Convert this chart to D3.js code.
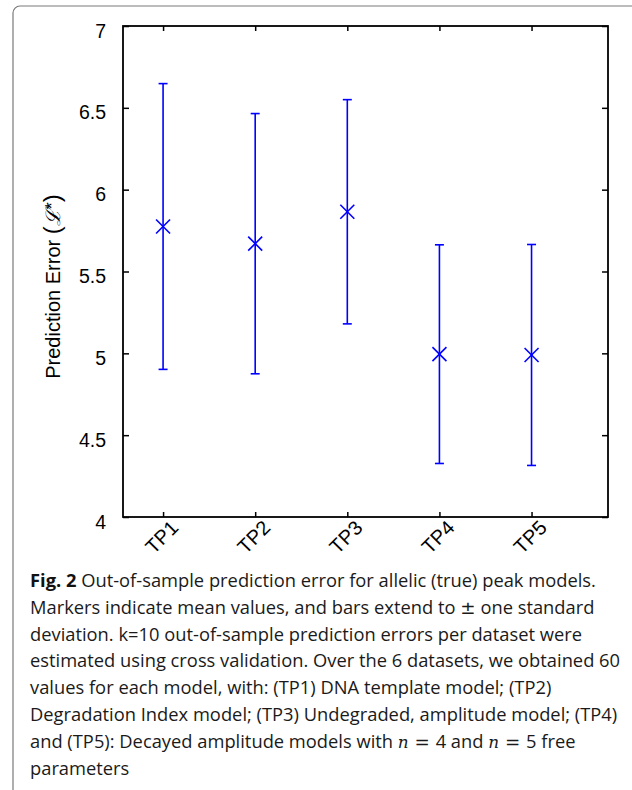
<!DOCTYPE html>
<html>
<head>
<meta charset="utf-8">
<script src="https://cdn.jsdelivr.net/npm/d3@7"></script>
<style>
  html, body { margin: 0; padding: 0; background: #fff; }
  svg { display: block; }
</style>
</head>
<body>
<svg id="chart" width="632" height="790"></svg>
<script>
// ---- data ----
const categories = ["TP1", "TP2", "TP3", "TP4", "TP5"];
const meanValues = [5.775, 5.67, 5.865, 4.995, 4.99];
const stdValues  = [0.873, 0.795, 0.685, 0.668, 0.675];
const yTickValues = [4, 4.5, 5, 5.5, 6, 6.5, 7];
const yTickLabels = ["4", "4.5", "5", "5.5", "6", "6.5", "7"];
const yAxisTitle = "Prediction Error";
const captionLines = [
  [{t: "Fig. 2", b: true}, {t: " Out-of-sample prediction error for allelic (true) peak models."}],
  [{t: "Markers indicate mean values, and bars extend to "}, {t: "\u00b1", m: true}, {t: " one standard"}],
  [{t: "deviation. k=10 out-of-sample prediction errors per dataset were"}],
  [{t: "estimated using cross validation. Over the 6 datasets, we obtained 60"}],
  [{t: "values for each model, with: (TP1) DNA template model; (TP2)"}],
  [{t: "Degradation Index model; (TP3) Undegraded, amplitude model; (TP4)"}],
  [{t: "and (TP5): Decayed amplitude models with "}, {t: "n", i: true}, {t: " = ", m: true}, {t: "4 and "}, {t: "n", i: true}, {t: " = ", m: true}, {t: "5 free"}],
  [{t: "parameters"}]
];

// ---- layout ----
const svg = d3.select("#chart");
const L = 123, R = 608, T = 26, B = 517;
const x = d3.scaleLinear().domain([0.565, 5.83]).range([L, R]);
const y = d3.scaleLinear().domain([4, 7]).range([B, T]);
const blue = "#0000ff";

// outer rounded frame
svg.append("rect")
  .attr("x", 13).attr("y", 6).attr("width", 700).attr("height", 900)
  .attr("rx", 7).attr("ry", 7)
  .attr("fill", "none").attr("stroke", "#7a7a7a").attr("stroke-width", 1.2);

const axisFont = "'Liberation Sans', Arial, Helvetica, sans-serif";

// axes
const gLeft = svg.append("g").attr("transform", `translate(${L},0)`)
  .call(d3.axisLeft(y).tickValues(yTickValues)
    .tickFormat((d, i) => yTickLabels[i]).tickSizeInner(-6).tickSizeOuter(0).tickPadding(17));
gLeft.selectAll("text").attr("font-size", 19.5).attr("font-family", axisFont)
  .attr("fill", "#000").attr("dy", "0.72em").attr("y", -3);

const gRight = svg.append("g").attr("transform", `translate(${R},0)`)
  .call(d3.axisRight(y).tickValues(yTickValues).tickFormat("").tickSizeInner(-6).tickSizeOuter(0));

const xTickVals = categories.map((c, i) => i + 1);
const gBottom = svg.append("g").attr("transform", `translate(0,${B})`)
  .call(d3.axisBottom(x).tickValues(xTickVals).tickFormat((d, i) => categories[i])
    .tickSizeInner(-5).tickSizeOuter(0));
gBottom.selectAll("text")
  .attr("font-size", 20).attr("font-family", axisFont).attr("fill", "#000")
  .attr("text-anchor", "end")
  .attr("y", 0).attr("dy", 0)
  .attr("transform", "translate(16,12) rotate(-45)");

const gTop = svg.append("g").attr("transform", `translate(0,${T})`)
  .call(d3.axisTop(x).tickValues(xTickVals).tickFormat("").tickSizeInner(-5).tickSizeOuter(0));

svg.selectAll(".domain").remove();
svg.selectAll(".tick line").attr("stroke", "#000").attr("stroke-width", 1.5);

svg.append("rect")
  .attr("x", L).attr("y", T).attr("width", R - L).attr("height", B - T)
  .attr("fill", "none").attr("stroke", "#000").attr("stroke-width", 1.8);

// y axis title
const yt = svg.append("text")
  .attr("transform", `translate(60,${(T + B) / 2 + 15}) rotate(-90)`)
  .attr("text-anchor", "middle")
  .attr("font-family", axisFont).attr("font-size", 20).attr("fill", "#000");
yt.append("tspan").text(yAxisTitle + " ");
yt.append("tspan").attr("font-size", 24).text("(");
yt.append("tspan").attr("font-family", "'DejaVu Serif', serif").attr("font-style", "italic").text("\u2112");
yt.append("tspan").attr("font-size", 18).attr("dy", -2).text("*");
yt.append("tspan").attr("font-size", 24).attr("dy", 2).text(")");

// error bars
const data = categories.map((c, i) => ({c, i: i + 1, m: meanValues[i], s: stdValues[i]}));
const g = svg.append("g").attr("stroke", blue).attr("stroke-width", 1.6).attr("fill", "none");
const capW = 4.5, mk = 7;
data.forEach(d => {
  const cx = x(d.i);
  g.append("line").attr("x1", cx).attr("x2", cx).attr("y1", y(d.m - d.s)).attr("y2", y(d.m + d.s));
  g.append("line").attr("x1", cx - capW).attr("x2", cx + capW).attr("y1", y(d.m + d.s)).attr("y2", y(d.m + d.s));
  g.append("line").attr("x1", cx - capW).attr("x2", cx + capW).attr("y1", y(d.m - d.s)).attr("y2", y(d.m - d.s));
  const cy = y(d.m);
  g.append("line").attr("x1", cx - mk).attr("x2", cx + mk).attr("y1", cy - mk).attr("y2", cy + mk);
  g.append("line").attr("x1", cx - mk).attr("x2", cx + mk).attr("y1", cy + mk).attr("y2", cy - mk);
});

// caption (condensed horizontally with a uniform scale so tspans stay contiguous)
const capFont = "'Open Sans', 'Noto Sans', sans-serif";
const capX = 30, capY0 = 587, capDy = 26.8;
const capG = svg.append("g");
const capNodes = [];
captionLines.forEach((parts, li) => {
  const t = capG.append("text")
    .attr("x", 0).attr("y", capY0 + li * capDy)
    .attr("font-family", capFont).attr("font-size", 18.5).attr("fill", "#1a1a1a")
    .attr("xml:space", "preserve").style("white-space", "pre");
  parts.forEach(p => {
    const ts = t.append("tspan").text(p.t);
    if (p.b) ts.attr("font-weight", "bold").attr("fill", "#111");
    if (p.i) ts.attr("font-style", "italic").attr("font-family", "'DejaVu Serif', serif").attr("font-size", 17);
    if (p.m) ts.attr("font-family", "'DejaVu Sans', sans-serif");
  });
  capNodes.push(t);
});
const w0 = capNodes[0].node().getComputedTextLength();
const factor = (596 - capX) / w0;
capG.attr("transform", `translate(${capX},0) scale(${factor},1)`);
</script>
</body>
</html>
